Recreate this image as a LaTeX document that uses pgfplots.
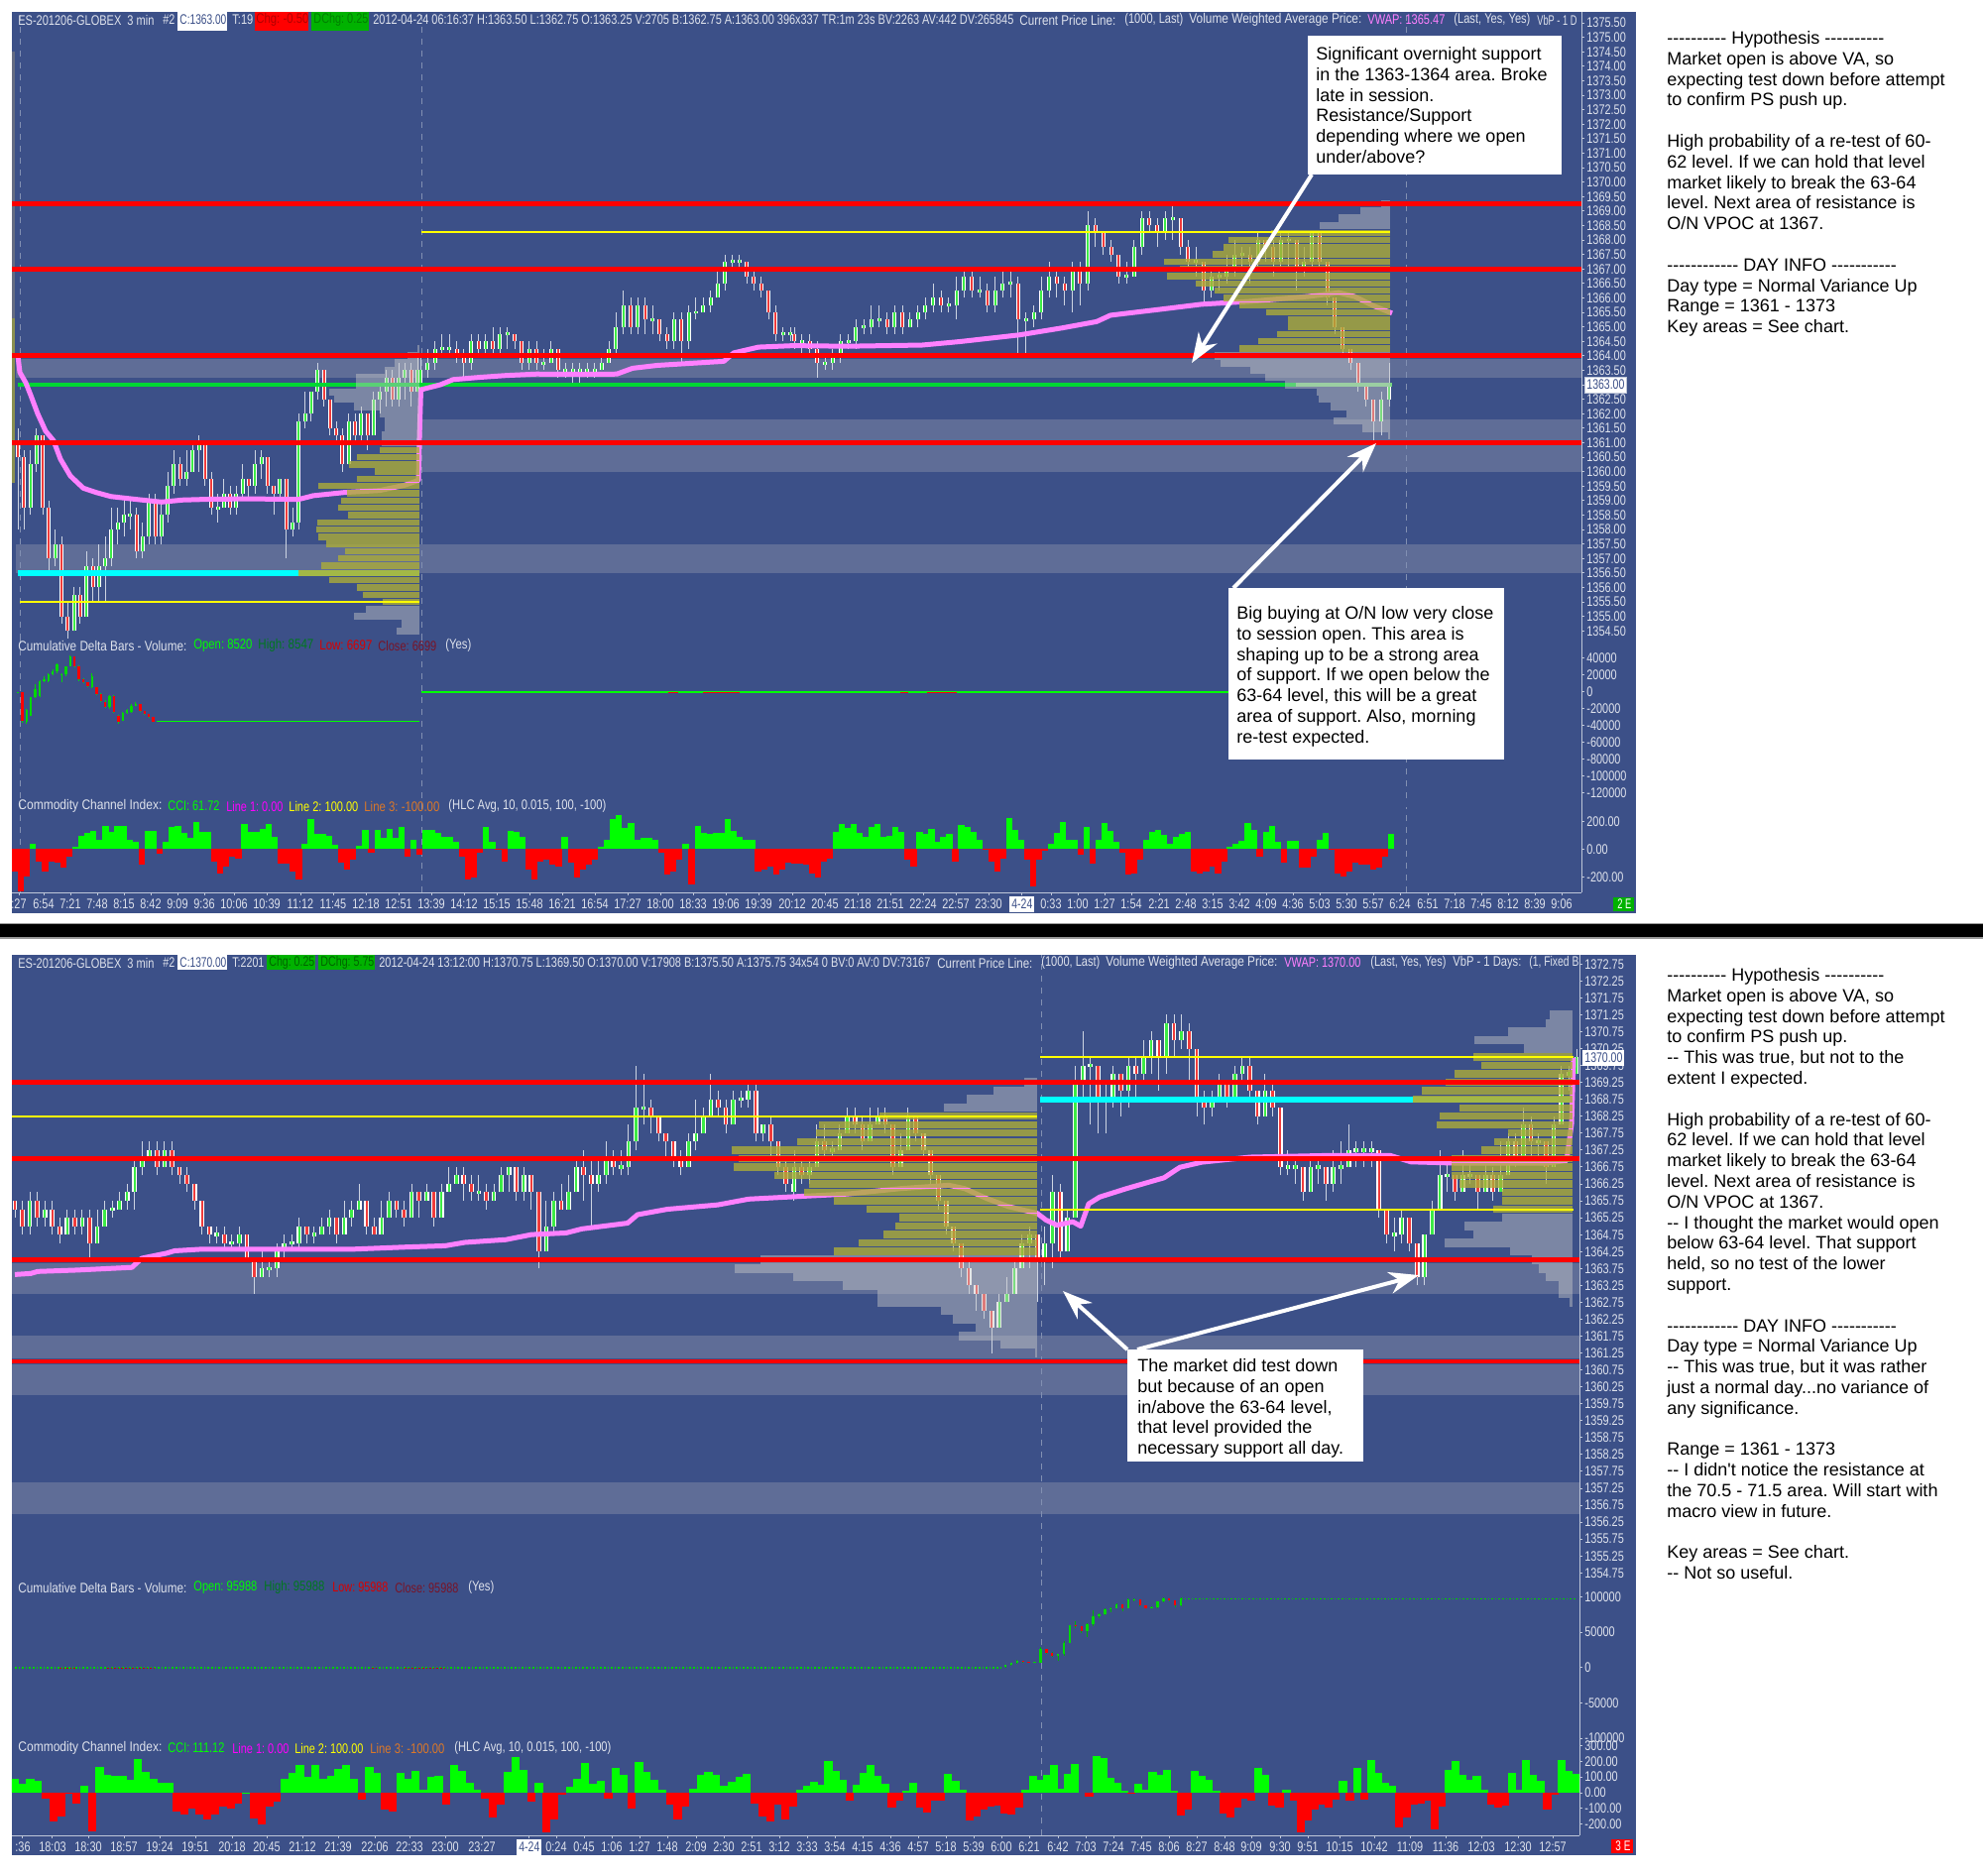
\documentclass[border=0pt]{standalone}
\usepackage{graphicx}
\usepackage{pgfplots}
\usepackage{pgfplotstable}
\usepackage{fontspec}
\pgfplotsset{compat=1.18}
\usetikzlibrary{arrows.meta}
\setmainfont{Liberation Sans}
\newfontfamily\ann{Liberation Sans}
\newfontfamily\tkf[FakeStretch=0.78]{Liberation Sans}
\def\tk{\tkf\fontsize{7}{8}\selectfont}
\definecolor{bg}{RGB}{60,80,136}
\definecolor{zonec}{RGB}{95,109,151}
\definecolor{lab}{RGB}{222,226,236}
\definecolor{linec}{RGB}{190,198,216}
\definecolor{olv}{RGB}{172,172,56}
\definecolor{gry}{RGB}{200,200,200}
\definecolor{vw}{RGB}{255,128,255}
\definecolor{upc}{RGB}{60,235,70}
\definecolor{dnc}{RGB}{240,60,60}
\definecolor{wickc}{RGB}{205,212,226}
\definecolor{dashc}{RGB}{130,144,178}
\definecolor{cgreen}{RGB}{0,215,50}
\definecolor{pocg}{RGB}{130,235,130}
\definecolor{dgreen}{RGB}{0,120,30}
\definecolor{dred}{RGB}{120,20,40}
\definecolor{orgc}{RGB}{220,120,40}
\definecolor{cyanc}{RGB}{0,255,255}
\definecolor{yelc}{RGB}{255,255,0}
\definecolor{magc}{RGB}{255,0,255}
\pgfplotsset{chart/.style={scale only axis,anchor=north west,axis y line*=right,
 axis line style={draw=linec,-},tick style={draw=linec,line width=0.5pt},major tick length=1.5pt,tick align=outside,
 yticklabel style={font=\tk,text=lab,inner sep=1pt},xticklabel style={font=\tk,text=lab,inner sep=0pt,yshift=-1.5pt},
 scaled y ticks=false,/pgf/number format/assume math mode=true,/pgf/number format/fixed,/pgf/number format/1000 sep={}},
 two/.style={/pgf/number format/fixed zerofill,/pgf/number format/precision=2}}
\newcount\ii \newcount\nn
\newcommand\getrow[2]{\pgfplotstablegetelem{\the\ii}{#2}\of{#1}}
\newcommand\glet[2]{\global\expandafter\let\csname #1\endcsname#2}
\def\gap{(0,nan)}
\newcommand\buildc[5]{\def\lw{}\def\lb{}\def\lu{}\def\ld{}%
 \pgfplotstablegetrowsof{#1}\nn=\pgfplotsretval\relax\ii=0
 \pgfmathsetmacro\stp{(#3-#2)/(\nn-1)}%
 \loop
 \getrow{#1}{l}\let\rL\pgfplotsretval\getrow{#1}{h}\let\rH\pgfplotsretval
 \getrow{#1}{o}\let\rO\pgfplotsretval\getrow{#1}{c}\let\rC\pgfplotsretval
 \pgfmathsetmacro\rX{#2+\the\ii*\stp}\pgfmathsetmacro\rA{min(\rO,\rC)}\pgfmathsetmacro\rB{max(\rO,\rC)}%
 \ifdim\rA pt=\rB pt \pgfmathsetmacro\rA{\rA-#4}\pgfmathsetmacro\rB{\rB+#4}\fi
 \edef\lw{\lw(\rX,\rL)(\rX,\rH)\gap}\edef\lb{\lb(\rX,\rA)(\rX,\rB)\gap}%
 \ifdim\rC pt<\rO pt \edef\ld{\ld(\rX,\rA)(\rX,\rB)\gap}\else\edef\lu{\lu(\rX,\rA)(\rX,\rB)\gap}\fi
 \advance\ii 1 \ifnum\ii<\nn\repeat
 \glet{#5w}\lw\glet{#5b}\lb\glet{#5u}\lu\glet{#5d}\ld}
\newcommand\buildv[4]{\def\lu{}\def\ld{}%
 \pgfplotstablegetrowsof{#1}\nn=\pgfplotsretval\relax\ii=0
 \pgfmathsetmacro\stp{(#3-#2)/(\nn-1)}%
 \loop
 \getrow{#1}{v}\let\rV\pgfplotsretval\pgfmathsetmacro\rX{#2+\the\ii*\stp}%
 \ifdim\rV pt<0pt \edef\ld{\ld(\rX,0)(\rX,\rV)\gap}\else\edef\lu{\lu(\rX,0)(\rX,\rV)\gap}\fi
 \advance\ii 1 \ifnum\ii<\nn\repeat
 \glet{#4u}\lu\glet{#4d}\ld}
\newcommand\buildp[3]{\def\lu{}%
 \pgfplotstablegetrowsof{#1}\nn=\pgfplotsretval\relax\ii=0
 \loop
 \getrow{#1}{p}\let\rP\pgfplotsretval\getrow{#1}{l}\let\rL\pgfplotsretval
 \edef\lu{\lu(\rL,\rP)(#2,\rP)\gap}%
 \advance\ii 1 \ifnum\ii<\nn\repeat
 \glet{#3}\lu}
\newcommand\segsi[2]{\addplot[unbounded coords=jump,#2] coordinates {#1};}
\newcommand\segs[2]{\expandafter\let\expandafter\tmpa\csname #2\endcsname\expandafter\segsi\expandafter{\tmpa}{#1}}
\newcommand\candles[3]{\segs{draw=wickc,line width=0.5pt}{#1w}\segs{draw=white,line width=#2}{#1b}\segs{draw=upc,line width=#3}{#1u}\segs{draw=dnc,line width=#3}{#1d}}
\newcommand\dcandles[2]{\segs{draw=#2,line width=0.5pt}{#1w}\segs{draw=green!85!black,line width=1.2pt}{#1u}\segs{draw=red,line width=1.2pt}{#1d}}
\newcommand\ccis[2]{\segs{draw=green,line width=#2}{#1u}\segs{draw=red,line width=#2}{#1d}}
\newcommand\zone[4]{\addplot[fill=zonec,draw=none] coordinates {(#1,#3)(#2,#3)(#2,#4)(#1,#4)};}
\newcommand\hl[4]{\addplot[#4] coordinates {(#1,#3)(#2,#3)};}
\newcommand\vl[3]{\addplot[dashc,dashed,line width=0.5pt] coordinates {(#1,#2)(#1,#3)};}
\newcommand\tx[5][lab]{\node[anchor=west,inner sep=0pt,text=#1] at (#2,#3) {\resizebox{\dimexpr(#4pt-#2pt)/2\relax}{\height}{\tk #5}};}
\pgfplotstableread{
l h o c
1358 1361.5 1361 1360.5
1358 1360.75 1360.5 1358.75
1358.5 1360.75 1358.75 1360.25
1360 1361.5 1360.25 1361.25
1358.5 1361.25 1361.25 1358.75
1356.5 1359 1358.75 1357
1356.75 1358 1357 1357.5
1354.75 1357.75 1357.5 1355
1354.25 1355.5 1355 1354.5
1354.5 1356 1354.5 1355.75
1354.75 1356 1355.75 1355
1355 1357.25 1355 1356.75
1355.5 1357 1356.75 1356
1355.5 1357.5 1356 1356.75
1355.5 1357.75 1356.75 1357
1356.75 1358.75 1357 1358
1357.5 1358.75 1358 1358.25
1357.75 1359 1358.25 1358.5
1358 1359 1358.5 1358.5
1357 1358.75 1358.5 1357.25
1357 1358.25 1357.25 1357.75
1357.5 1359.25 1357.75 1359
1357.5 1359.25 1359 1357.75
1357.5 1359 1357.75 1358.5
1358.25 1360 1358.5 1359.5
1359.25 1360.75 1359.5 1360.25
1359.5 1360.5 1360.25 1359.75
1359.5 1360.75 1359.75 1360
1360 1361 1360 1360.75
1360 1361.25 1360.75 1361
1359.5 1361 1361 1359.75
1358.5 1360 1359.75 1358.75
1358.25 1359.25 1358.75 1358.75
1358.75 1359.75 1358.75 1359.25
1358.5 1359.5 1359.25 1358.75
1358.5 1359.5 1358.75 1359.25
1359 1360.25 1359.25 1359.75
1359 1359.75 1359.75 1359.5
1359.25 1360.75 1359.5 1360.25
1359.75 1360.75 1360.25 1360.5
1359.25 1360.5 1360.5 1359.5
1358.5 1359.5 1359.5 1359.25
1359 1359.75 1359.25 1359.75
1357 1359.75 1359.75 1358
1357.75 1358.75 1358 1358.25
1358 1362 1358.25 1361.75
1361.5 1362.75 1361.75 1362
1361.75 1362.75 1362 1362.75
1362.5 1363.75 1362.75 1363.5
1362.25 1363.5 1363.5 1362.5
1361.25 1362.5 1362.5 1361.5
1361 1361.75 1361.5 1361.25
1360 1361.5 1361.25 1360.25
1360.25 1362 1360.25 1361.75
1361 1362 1361.75 1361.25
1361 1362.25 1361.25 1362
1360.75 1362 1362 1361.25
1361.25 1362.75 1361.25 1362.5
1362 1363 1362.5 1362.75
1362.25 1363.5 1362.75 1363.25
1362.25 1363.5 1363.25 1362.5
1362.25 1363.75 1362.5 1363.25
1362.5 1363.75 1363.25 1363.5
1362.25 1363.75 1363.5 1362.75
1362.75 1364 1362.75 1363.5
}\tA
\pgfplotstableread{
l h o c
1362.75 1364 1362.75 1363.5
1363.25 1364.25 1363.5 1363.75
1363.5 1364.5 1363.75 1364.25
1364 1364.75 1364.25 1364.25
1364 1364.75 1364.25 1364.25
1363.75 1364.5 1364.25 1364
1363.25 1364.25 1364 1363.75
1363.5 1364.75 1363.75 1364.5
1364 1364.75 1364.5 1364.25
1364 1364.75 1364.25 1364.5
1364 1365 1364.5 1364.25
1364 1365 1364.25 1364.75
1364.25 1365 1364.75 1364.75
1364.25 1364.75 1364.75 1364.5
1363.5 1364.5 1364.5 1363.75
1363.5 1364.5 1363.75 1364.25
1363.5 1364.5 1364.25 1363.75
1363.5 1364.25 1363.75 1363.75
1363.75 1364.5 1363.75 1364.25
1363.25 1364.25 1364.25 1363.5
1363.25 1363.75 1363.5 1363.5
1363 1363.75 1363.5 1363.5
1363 1363.75 1363.5 1363.5
1363.25 1363.75 1363.5 1363.5
1363.25 1363.75 1363.5 1363.5
1363.5 1364 1363.5 1363.75
1363.75 1364.5 1363.75 1364.25
1364 1365.5 1364.25 1365
1364.75 1366.25 1365 1365.75
1364.75 1366 1365.75 1365
1364.75 1366 1365 1365.75
1364.75 1366 1365.75 1365.25
1364.75 1365.75 1365.25 1365.25
1364.5 1365.25 1365.25 1364.75
1364.25 1365 1364.75 1364.5
1364.25 1365.5 1364.5 1365.25
1363.75 1365.5 1365.25 1364.5
1364.25 1365.75 1364.5 1365.5
1365.25 1366 1365.5 1365.5
1365.5 1366 1365.5 1365.75
1365.5 1366.25 1365.75 1366
1366 1367 1366 1366.5
1366.25 1367.5 1366.5 1367.25
1367 1367.5 1367.25 1367.25
1367 1367.5 1367.25 1367.25
1366.5 1367.25 1367.25 1366.75
1366.25 1367 1366.75 1366.5
1366 1366.75 1366.5 1366.25
1365.25 1366.25 1366.25 1365.5
1364.5 1365.75 1365.5 1364.75
1364.5 1365 1364.75 1364.75
1364.5 1365 1364.75 1364.75
}\tB
\pgfplotstableread{
l h o c
1364.25 1365 1364.75 1364.5
1364 1364.75 1364.5 1364.5
1364 1364.75 1364.5 1364.25
1363.25 1364.5 1364.25 1363.75
1363.5 1364 1363.75 1363.75
1363.5 1364.25 1363.75 1364
1363.75 1364.75 1364 1364.5
1364.25 1364.75 1364.5 1364.5
1364.25 1365.25 1364.5 1365
1364.75 1365.25 1365 1365
1364.75 1365.75 1365 1365.25
1365 1365.75 1365.25 1365.25
1364.75 1365.5 1365.25 1365
1364.75 1365.75 1365 1365.5
1364.75 1365.75 1365.5 1365
1365 1365.5 1365 1365.25
1365 1365.75 1365.25 1365.5
1365.25 1366 1365.5 1365.75
1365.5 1366.5 1365.75 1366
1365.5 1366.25 1366 1365.75
1365.5 1366 1365.75 1365.75
1365.25 1366.75 1365.75 1366.25
1366 1367 1366.25 1366.75
1366 1367 1366.75 1366.25
1366 1366.75 1366.25 1366.25
1365.5 1366.5 1366.25 1365.75
1365.5 1366.75 1365.75 1366.25
1366 1367 1366.25 1366.5
1366 1367 1366.5 1366.5
1364 1366.75 1366.5 1365.25
1364 1365.5 1365.25 1365.25
1365 1365.75 1365.25 1365.5
1365.25 1366.75 1365.5 1366.25
1366 1367.25 1366.25 1366.75
1366 1367 1366.75 1366.5
1365.75 1366.75 1366.5 1366.25
1365.5 1367.25 1366.25 1367
1365.75 1367.25 1367 1366.5
1366.25 1369 1366.5 1368.5
1367.75 1368.75 1368.5 1368.25
1367.5 1368.25 1368.25 1367.75
1367.25 1368 1367.75 1367.5
1366.5 1367.5 1367.5 1366.75
1366.5 1367.25 1366.75 1366.75
1366.75 1368 1366.75 1367.75
1367.5 1369 1367.75 1368.75
1368.25 1369 1368.75 1368.5
1367.75 1368.75 1368.5 1368.25
1368 1369 1368.25 1368.75
1368 1369.25 1368.75 1368.75
1367.5 1368.75 1368.75 1367.75
1367 1368 1367.75 1367.25
1366.75 1367.75 1367.25 1367.25
1365.75 1367.25 1367.25 1366.25
1366 1367 1366.25 1366.75
1366.25 1367 1366.75 1366.75
1366.5 1367.5 1366.75 1367
1366.75 1368 1367 1367.5
1367 1367.75 1367.5 1367.5
1366.5 1367.75 1367.5 1367.25
1367 1368.25 1367.25 1368
1367.25 1368 1368 1367.75
1366.75 1368 1367.75 1367.25
1367 1368.25 1367.25 1368
1367 1368.25 1368 1368
1366.25 1368 1368 1367
1366.75 1367.75 1367 1367.25
1367 1368.25 1367.25 1368.25
1367 1368.25 1368.25 1367.25
1365.75 1367.25 1367.25 1366
1364.75 1366 1366 1365
1364 1365 1365 1364.25
1363.5 1364.25 1364.25 1363.75
1362.75 1363.75 1363.75 1363
1362.25 1363 1363 1362.5
1361 1362.5 1362.5 1361.75
1361.25 1362.75 1361.75 1362.5
1362.25 1363.75 1362.5 1363
}\tC
\pgfplotstableread{
l h o c
1365.25 1365.75 1365.75 1365.5
1364.75 1365.75 1365.5 1365
1364.75 1366 1365 1365.75
1365 1366 1365.75 1365.25
1365 1365.75 1365.25 1365.5
1364.75 1365.75 1365.5 1365
1364.5 1365.25 1365 1364.75
1364.75 1365.5 1364.75 1365.25
1364.75 1365.5 1365.25 1365
1364.75 1365.5 1365 1365.25
1364 1365.5 1365.25 1364.5
1364.5 1365.5 1364.5 1365
1365 1365.75 1365 1365.5
1365.25 1365.75 1365.5 1365.5
1365.5 1366 1365.5 1365.75
1365.5 1366.25 1365.75 1366
1365.5 1367 1366 1366.75
1366.5 1367.5 1366.75 1367
1367 1367.5 1367 1367.25
1366.5 1367.5 1367.25 1366.75
1366.75 1367.5 1366.75 1367.25
1366.5 1367.5 1367.25 1366.75
1366.25 1366.75 1366.75 1366.5
1366 1366.75 1366.5 1366.25
1365.5 1366.25 1366.25 1365.75
1364.75 1365.75 1365.75 1365
1364.5 1365 1365 1364.75
1364.5 1365 1364.75 1364.75
1364.25 1365 1364.75 1364.5
1364.25 1364.75 1364.5 1364.5
1364.25 1365 1364.5 1364.75
1364 1364.75 1364.75 1364
1363 1364 1364 1363.5
1363.5 1364.25 1363.5 1363.75
1363.5 1364 1363.75 1363.75
1363.5 1364.5 1363.75 1364.25
1364 1364.75 1364.25 1364.5
1364.25 1364.75 1364.5 1364.5
1364.25 1365.25 1364.5 1365
1364.5 1365 1365 1364.75
1364.5 1365 1364.75 1364.75
1364.75 1365.25 1364.75 1365
1364.75 1365.5 1365 1365.25
1364.5 1365.25 1365.25 1364.75
1364.75 1365.75 1364.75 1365.25
1365 1365.75 1365.25 1365.5
1365.5 1366.25 1365.5 1365.75
1364.75 1365.75 1365.75 1365
1364.75 1365.25 1365 1364.75
1364.75 1365.75 1364.75 1365.25
1365.25 1366 1365.25 1365.75
1365.25 1365.75 1365.75 1365.5
1365 1365.75 1365.5 1365.25
1365.25 1366.25 1365.25 1366
1365.25 1366 1366 1365.75
1365.75 1366.25 1365.75 1366
1365 1366 1366 1365.25
1365.25 1366.25 1365.25 1366
1366 1366.75 1366 1366.25
1366.25 1366.75 1366.25 1366.5
1365.75 1366.75 1366.5 1366.25
1365.75 1366.5 1366.25 1366
1365.75 1366.5 1366 1366
1365.5 1366.25 1366 1365.75
1365.75 1366.25 1365.75 1366
1366 1366.75 1366 1366.5
1366 1366.75 1366.5 1366.75
1365.75 1366.75 1366.75 1366
1365.75 1366.75 1366 1366.5
1365.5 1366.5 1366.5 1366
1363.75 1366 1366 1364.25
1364.25 1365.75 1364.25 1365
1364.75 1366 1365 1365.75
1365.5 1366.25 1365.75 1365.5
1365.5 1366.5 1365.5 1366
1366 1367 1366 1366.75
1365.75 1367.25 1366.75 1366.5
1365 1367 1366.5 1366.25
1366 1367 1366.25 1366.5
1366.25 1367.5 1366.5 1367
1366.5 1367.25 1367 1366.75
1366.5 1367.25 1366.75 1366.75
1366.5 1368 1366.75 1367.5
1367.25 1369.75 1367.5 1368.5
1368 1369.5 1368.5 1368.5
1367.75 1368.75 1368.5 1368.25
1367.5 1368.25 1368.25 1367.75
1367 1367.75 1367.75 1367.5
1366.75 1367.5 1367.5 1367
1366.5 1367.25 1367 1366.75
1366.75 1367.75 1366.75 1367.5
1367.25 1368.75 1367.5 1367.75
1367.75 1368.5 1367.75 1368.25
1368.25 1369.5 1368.25 1368.75
1368.25 1369 1368.75 1368.5
1367.75 1368.75 1368.5 1368
1368 1369 1368 1368.75
1368.5 1369 1368.75 1368.75
1368.5 1369.25 1368.75 1369
1367.5 1369.25 1369 1367.75
1367.5 1368 1367.75 1368
1367 1368.25 1368 1367.5
1366.5 1367.5 1367.5 1366.75
1366 1367 1366.75 1366.25
1365.75 1366.25 1366.25 1366
}\tD
\pgfplotstableread{
l h o c
1366.5 1367.25 1366 1366.75
1366.25 1367 1366.75 1366.5
1366.25 1367 1366.5 1366.75
1367.25 1368 1366.75 1367.5
1367 1368 1367.5 1367.25
1367 1367.5 1367.25 1367.25
1367.5 1368 1367.25 1367.75
1367.75 1368.5 1367.75 1368.25
1367.75 1368.5 1368.25 1368
1367.25 1368.25 1368 1367.5
1367.5 1368.5 1367.5 1368
1368 1368.5 1368 1368.25
1367.75 1368.5 1368.25 1368
1366.5 1368 1368 1366.75
1367 1367.75 1366.75 1367.25
1367.25 1368.5 1367.25 1368.25
1367.5 1368.25 1368.25 1367.75
1367 1367.75 1367.75 1367.25
1366.25 1367.25 1367.25 1366.5
1365.5 1366.5 1366.5 1365.75
1364.75 1365.75 1365.75 1365
1364.25 1365 1365 1364.5
1363.5 1364.5 1364.5 1363.75
1363 1364 1363.75 1363.25
1362.5 1363.25 1363.25 1363
1362.25 1363 1363 1362.5
1361.25 1362.5 1362.5 1362
1362 1363 1362 1362.75
1362.75 1363.5 1362.75 1363
1363 1364 1363 1363.75
1363.75 1364.75 1363.75 1364.5
1363.75 1365 1364.5 1364.75
1362.75 1364.75 1364.75 1364
1363.25 1365 1364 1364.5
1363.75 1366.5 1364.5 1366
1364 1366.25 1366 1364.25
1364.25 1365.5 1364.25 1365.25
1365.25 1369.75 1365.25 1369.25
1368.75 1370.75 1369.25 1369.75
1368 1370 1369.75 1369.75
1367.75 1369.75 1369.75 1368.75
1367.75 1369.25 1368.75 1368.75
1368.5 1369.75 1368.75 1369.5
1368.25 1369.5 1369.5 1369
1368.5 1370 1369 1369.75
1368.75 1370 1369.75 1369.5
1369.25 1370.5 1369.5 1370
1369.5 1370.75 1370 1370.5
1369 1370.5 1370.5 1370
1369.5 1371.25 1370 1371
1370 1371.25 1371 1370.5
1370.25 1371.25 1370.5 1370.75
1369.25 1371 1370.75 1370.25
1368.25 1370.25 1370.25 1368.75
1368 1369 1368.75 1368.5
1368.25 1369 1368.5 1368.75
1368.75 1369.5 1368.75 1369.25
1368.5 1369.25 1369.25 1368.75
1368.75 1369.75 1368.75 1369.5
1369.25 1370 1369.5 1369.75
1368.75 1370 1369.75 1369
1368 1369 1369 1368.25
1368.25 1369.5 1368.25 1369
1368.25 1369.25 1369 1368.5
1366.5 1368.5 1368.5 1366.75
1366.5 1367.25 1366.75 1366.75
1366.25 1367 1366.75 1366.75
1365.75 1366.75 1366.75 1366
1366 1367 1366 1366.75
1366.25 1367 1366.75 1366.75
1365.75 1366.75 1366.75 1366.25
1366 1367.25 1366.25 1366.75
1366.25 1367.5 1366.75 1366.75
1367 1368 1366.75 1367.25
1366.75 1367.5 1367.25 1367.25
1366.75 1367.5 1367.25 1367.25
1366.75 1367.5 1367.25 1367.25
1365.25 1367.25 1367.25 1365.5
1364.5 1365.5 1365.5 1364.75
1364.25 1365.25 1364.75 1364.75
1364.5 1365.5 1364.75 1365.25
1364.25 1365.25 1365.25 1364.5
1363.25 1364.5 1364.5 1363.5
1363.25 1364.75 1363.5 1364.75
1364.75 1365.75 1364.75 1365.5
1365.5 1367.25 1365.5 1366.5
1366 1367 1366.5 1366.5
1365.75 1366.5 1366.5 1366
1366 1367.25 1366 1366.5
1366.25 1367 1366.5 1366.5
1365.5 1366.5 1366.5 1366
1366 1367 1366 1366.5
1365.75 1366.75 1366.5 1366
1366 1367.5 1366 1366.5
1366.5 1367.75 1366.5 1367.5
1366.75 1367.75 1367.5 1367
1367 1368.5 1367 1368
1367 1368.25 1368 1367.5
1367 1367.75 1367.5 1367.5
1366.25 1367.5 1367.5 1366.75
1366.75 1368.25 1366.75 1368
1368 1369.75 1368 1369.5
1369 1369.75 1369.5 1369.5
1369.5 1370.25 1369.5 1370
}\tE
\pgfplotstableread{
p l
1360.75 383
1360.5 360
1360.25 352
1360 378
1359.75 360
1359.5 321
1359.25 350
1359 344
1358.75 341
1358.5 351
1358.25 320
1358 319
1357.75 321
1357.5 329
1357.25 348
1357 341
1356.75 324
1356.5 301
1356.25 332
1356 360
1355.75 366
1355.5 386
}\pAo
\pgfplotstableread{
p l
1364.25 421
1364 411
1363.75 398
1363.5 388
1363.25 359
1363 359
1362.75 332
1362.5 337
1362.25 357
1362 383
1361.75 388
1361.5 388
1361.25 385
1361 385
1355.25 369
1355 357
1354.75 405
1354.5 400
}\pAg
\pgfplotstableread{
p l
1368.25 1282
1368 1239
1367.75 1234
1367.5 1223
1367.25 1174
1367 1190
1366.75 1177
1366.5 1206
1366.25 1225
1366 1234
1365.75 1250
1365.5 1277
1365.25 1299
1365 1299
1364.75 1288
1364.5 1269
1364.25 1250
}\pBo
\pgfplotstableread{
p l
1369.25 1393
1369 1372
1368.75 1350
1368.5 1331
1364 1225
1363.75 1231
1363.5 1261
1363.25 1276
1363 1296
1362.75 1328
1362.5 1330
1362.25 1342
1362 1358
1361.75 1345
1361.5 1374
1361.25 1400
}\pBg
\pgfplotstableread{
p l
1368.25 887
1368 826
1367.75 823
1367.5 804
1367.25 738
1367 745
1366.75 740
1366.5 781
1366.25 816
1366 811
1365.75 841
1365.5 874
1365.25 907
1365 903
1364.75 891
1364.5 866
1364.25 841
}\pCo
\pgfplotstableread{
p l
1369.25 1033
1369 1002
1368.75 975
1368.5 952
1364 767
1363.75 741
1363.5 800
1363.25 850
1363 885
1362.75 885
1362.5 949
1362.25 961
1362 984
1361.75 967
1361.5 1009
1361.25 1044
}\pCg
\pgfplotstableread{
p l
1370 1486
1369.75 1494
1369.5 1467
1369.25 1458
1369 1434
1368.75 1425
1368.5 1472
1368.25 1452
1368 1449
1367.75 1521
1367.5 1507
1367.25 1494
1367 1464
1366.75 1464
1366.5 1464
1366.25 1472
1366 1515
1365.75 1515
1365.5 1506
}\pDo
\pgfplotstableread{
p l
1371.25 1563
1371 1559
1370.75 1521
1370.5 1487
1370.25 1537
1365.25 1515
1365 1477
1364.75 1486
1364.5 1457
1364.25 1523
1364 1545
1363.75 1552
1363.5 1559
1363.25 1572
1363 1572
1362.75 1583
}\pDg
\pgfplotstableread{
l h o c
-2 0.2 -0.8 -0.8
-37 -0.8 -0.8 -34.1
-38 -20 -36.1 -21.6
-29 -6 -28.2 -6.7
-7 9 -6.7 3.1
-6 14 -4.7 12.9
11 18 12.9 14.9
12 22 12.9 20.8
20 27 20.8 24.7
22 33.5 24.7 32.5
12 22 20.8 20.8
19 27 20.8 30.6
30 43 30.6 41.6
29 42 41.6 30.6
13 31 30.6 14.9
10 16 14.9 11
6 12 11 7.1
4 22 5.1 18.8
-4 6 5.1 -2.7
-12 -2 -2.7 -10.6
-19 -10 -12.5 -18.4
-20 -4 -18.4 -5.5
-25 -4 -4.7 -24.3
-38 -27 -28.2 -36.1
-34 -24 -34.1 -25.5
-26 -20 -25.5 -21.6
-25 -15 -24.3 -16.5
-17 -12 -16.5 -14.5
-24 -14 -14.5 -23.1
-27 -23 -23.1 -26.3
-31 -26 -26.3 -30.2
-36 -30 -30.2 -36
-36 -34 -35.8 -34.9
}\dA
\pgfplotstableread{
l h o c
0 3.5 0.5 3.3
3 6.5 3.3 6.1
5.5 11 6.1 9.3
7 10 9.3 7.9
6.5 8.5 7.9 7
6 8 7 7
6.5 29 7 25.7
19 26 25.7 21
15 22 21 16.3
10 19 16.3 18.7
17 37 18.7 35
34 60 35 59.8
55 65 59.8 58.4
48 58.5 58.4 51.4
43 62 51.4 60.7
58 81 60.7 72.4
70 76 72.4 74.7
74 83 74.7 81.7
78 85 81.7 84.1
84 90 84.1 88.7
79 89 88.7 84.1
84 97 84.1 95.7
93 98 95.7 95.7
86 96 95.7 87.3
83 88 87.3 84.1
83 86 84.1 85
83 94 85 93.4
92 99 93.4 97.1
93 98 97.1 94.3
85 95 94.3 87.3
86 99 87.3 97.1
}\dB
\pgfplotstableread[row sep=\\]{v\\-158\\-300\\-193\\42\\-87\\-158\\-87\\-99\\-134\\-52\\19\\97\\113\\132\\66\\167\\125\\167\\167\\66\\54\\-111\\132\\132\\-33\\54\\156\\167\\113\\78\\191\\125\\125\\-87\\-170\\-123\\-52\\-64\\177\\125\\125\\142\\177\\90\\-104\\-104\\-158\\-217\\42\\215\\109\\109\\97\\31\\-99\\-146\\-75\\24\\137\\-28\\137\\78\\142\\78\\156\\-52\\66\\-40\\137\\137\\113\\90\\90\\54\\-52\\-217\\-205\\-28\\160\\54\\-5\\-87\\132\\125\\90\\-146\\-217\\-87\\-75\\-111\\-123\\90\\-99\\-205\\-146\\-111\\-75\\14\\66\\215\\243\\149\\184\\66\\78\\78\\66\\-28\\-182\\-158\\-75\\42\\-252\\167\\113\\106\\113\\113\\215\\132\\90\\66\\66\\-158\\-146\\-123\\-182\\-146\\-99\\}\cA
\pgfplotstableread[row sep=\\]{v\\-104\\-104\\-111\\-170\\-205\\-87\\-64\\125\\177\\149\\177\\113\\90\\156\\177\\90\\97\\160\\125\\-75\\-123\\125\\109\\142\\54\\90\\109\\-87\\172\\156\\125\\66\\-5\\-87\\-158\\-64\\226\\137\\66\\-75\\-264\\-75\\-9\\42\\113\\196\\66\\66\\-40\\156\\-104\\66\\189\\132\\54\\-28\\-182\\-170\\-75\\66\\125\\137\\101\\42\\90\\109\\125\\-158\\-170\\-158\\-123\\-170\\-87\\14\\38\\61\\189\\137\\-52\\125\\167\\54\\-99\\61\\61\\-134\\-134\\-52\\66\\118\\-5\\-170\\-193\\-158\\-99\\-111\\-111\\-146\\-134\\-52\\109\\}\cB
\pgfplotstableread[row sep=\\]{v\\90\\59\\86\\73\\-36\\-182\\-151\\-4\\-67\\42\\-245\\163\\115\\107\\107\\80\\216\\132\\90\\65\\65\\-119\\-140\\-98\\-140\\-172\\-140\\-88\\-98\\-67\\2\\-161\\-199\\-88\\-57\\90\\126\\174\\100\\174\\90\\107\\153\\174\\90\\-46\\163\\128\\-109\\-119\\128\\90\\136\\17\\100\\107\\-78\\178\\136\\65\\17\\-36\\-157\\-78\\132\\226\\142\\-57\\65\\-249\\-172\\-15\\38\\86\\191\\59\\73\\-36\\157\\115\\-98\\195\\132\\80\\17\\-78\\-172\\-88\\27\\111\\132\\111\\44\\69\\100\\122\\-67\\-151\\-182\\-78\\-172\\-88\\}\cC
\pgfplotstableread[row sep=\\]{v\\-31\\21\\42\\67\\48\\203\\140\\80\\-48\\48\\126\\174\\105\\57\\-94\\-52\\15\\63\\-94\\-126\\-52\\-52\\122\\78\\21\\-178\\-153\\-105\\-88\\-84\\-132\\-136\\-94\\21\\105\\84\\115\\178\\27\\119\\182\\0\\-27\\230\\220\\94\\63\\15\\-4\\57\\21\\132\\111\\147\\15\\-147\\-105\\140\\105\\80\\15\\-132\\-157\\-94\\-36\\-52\\157\\115\\-84\\-94\\19\\-52\\-252\\-178\\-105\\-73\\-94\\-42\\73\\-52\\157\\-42\\210\\126\\63\\42\\-220\\-157\\-73\\-69\\-52\\-230\\-90\\147\\199\\115\\84\\105\\21\\-78\\-94\\-84\\126\\21\\210\\115\\73\\-105\\-10\\210\\136\\119\\}\cD
\buildc{\tA}{18}{421}{0.05}{xA}\buildc{\tB}{424}{797}{0.05}{xB}\buildc{\tC}{801}{1401}{0.05}{xC}
\buildc{\tD}{15}{800}{0.05}{xD}\buildc{\tE}{801}{1590}{0.05}{xE}
\buildc{\dA}{18}{159}{0.3}{yA}\buildc{\dB}{1014}{1191}{0.4}{yB}
\buildv{\cA}{15}{795}{zA}\buildv{\cB}{801}{1403}{zB}\buildv{\cC}{15}{800}{zC}\buildv{\cD}{800}{1589}{zD}
\buildp{\pAo}{423}{qAo}\buildp{\pAg}{423}{qAg}\buildp{\pBo}{1402}{qBo}\buildp{\pBg}{1402}{qBg}
\buildp{\pCo}{1046}{qCo}\buildp{\pCg}{1046}{qCg}\buildp{\pDo}{1586}{qDo}\buildp{\pDg}{1586}{qDg}
\begin{document}%
\frenchspacing%
\begin{tikzpicture}
\path[use as bounding box] (0,0) rectangle (1000pt,-945.5pt);
\begin{scope}[x=0.5pt,y=-0.5pt]
\fill[bg] (12,12) rectangle (1650,921);
\fill[bg] (12,963) rectangle (1650,1871);
\fill[black] (0,932) rectangle (2000,945);
\fill[black!40] (0,930.5) rectangle (2000,932);
\fill[black!40] (0,945) rectangle (2000,946.5);
\end{scope}
\begin{axis}[chart,two,axis x line=none,at={(6pt,-6pt)},width=791.5pt,height=316.5pt,xmin=12,xmax=1595,ymin=1354.2,ymax=1375.877,ytick distance=0.5]
\zone{16}{1595}{1363.9}{1363.25}
\zone{425}{1595}{1361.8}{1361.1}
\zone{425}{1595}{1360.9}{1360}
\zone{16}{1595}{1357.5}{1356.5}
\addplot[fill=gray!60!bg,draw=none] coordinates {(12,1374.5)(15,1374.5)(15,1365.3)(12,1365.3)};
\addplot[fill=olv!70!bg,draw=none] coordinates {(12,1365.3)(15,1365.3)(15,1359.6)(12,1359.6)};
\vl{20}{1354.2}{1375.87}\vl{425}{1354.2}{1375.87}\vl{1418}{1354.2}{1375.87}
\candles{xA}{2pt}{1pt}
\candles{xB}{2pt}{1pt}
\candles{xC}{2pt}{1pt}
\hl{18}{1307}{1363}{draw=cgreen,line width=2pt}
\hl{1307}{1404}{1363}{draw=pocg!85!bg,line width=2pt}
\hl{18}{301}{1356.5}{draw=cyanc,line width=3pt}
\hl{301}{423}{1356.5}{draw=pocg,line width=3pt}
\addplot[vw,line width=2.5pt,line join=round] coordinates {(18,1364)(20,1363.43)(26,1363.07)(31,1362.64)(38,1362)(46,1361.4)(54,1361.07)(61,1360.43)(71,1359.85)(84,1359.43)(97,1359.28)(112,1359.14)(138,1359.04)(163,1358.95)(184,1359.02)(214,1359.05)(255,1359.06)(301,1359.04)(316,1359.17)(347,1359.28)(383,1359.35)(408,1359.53)(422,1359.7)(423,1361.17)(424.5,1362.83)(444,1363)(457,1363.18)(485,1363.26)(510,1363.32)(541,1363.37)(587,1363.36)(622,1363.37)(638,1363.57)(663,1363.67)(730,1363.81)(740,1364.1)(765,1364.3)(800,1364.35)(854,1364.33)(930,1364.37)(968,1364.49)(1028,1364.72)(1071,1364.96)(1106,1365.18)(1120,1365.4)(1169,1365.6)(1212,1365.78)(1261,1365.88)(1320,1366.05)(1350,1366.18)(1366,1366.05)(1385,1365.73)(1404,1365.47)};
\segs{draw=olv,draw opacity=0.8,line width=3.2pt}{qAo}
\segs{draw=gry,draw opacity=0.45,line width=3.7pt}{qAg}
\segs{draw=olv,draw opacity=0.8,line width=3.2pt}{qBo}
\segs{draw=gry,draw opacity=0.45,line width=3.7pt}{qBg}
\hl{20}{423}{1355.5}{draw=yelc,line width=1pt}
\hl{425}{1402}{1368.28}{draw=yelc,line width=1pt}
\hl{12}{1595}{1369.25}{draw=red,line width=2.4pt}
\hl{12}{1595}{1367}{draw=red,line width=2.4pt}
\hl{12}{1595}{1364}{draw=red,line width=2.4pt}
\hl{12}{1595}{1361}{draw=red,line width=2.4pt}
\end{axis}
\begin{axis}[chart,axis x line=none,at={(6pt,-322.5pt)},width=791.5pt,height=80pt,xmin=12,xmax=1595,ymin=-126.235,ymax=62,ytick={-120,-100,-80,-60,-40,-20,0,20,40},yticklabels={-120000,-100000,-80000,-60000,-40000,-20000,0,20000,40000}]
\vl{20}{-126.235}{62}\vl{425}{-126.235}{62}\vl{1418}{-126.235}{62}
\dcandles{yA}{green!85!black}
\hl{158}{423}{-35}{draw=green,line width=0.7pt}
\hl{425}{1404}{-0.3}{draw=green,line width=0.7pt}
\hl{674}{684}{-0.8}{draw=red,line width=0.7pt}
\hl{709}{746}{-0.8}{draw=red,line width=0.7pt}
\hl{908}{916}{-0.8}{draw=red,line width=0.7pt}
\hl{935}{965}{-0.8}{draw=red,line width=0.7pt}
\end{axis}
\begin{axis}[chart,two,axis x line*=bottom,at={(6pt,-402.5pt)},width=791.5pt,height=47.5pt,xmin=12,xmax=1595,ymin=-308,ymax=364,ytick={-200,0,200},
 xtick={19,44,71,98,125,152,179,206,236,269,303,336,369,402,435,468,501,534,567,600,633,666,699,732,765,799,832,865,898,931,964,997,1030,1060,1087,1114,1141,1169,1196,1223,1250,1277,1304,1331,1358,1385,1412,1440,1467,1494,1521,1548,1575},
 xticklabels={:27,6:54,7:21,7:48,8:15,8:42,9:09,9:36,10:06,10:39,11:12,11:45,12:18,12:51,13:39,14:12,15:15,15:48,16:21,16:54,17:27,18:00,18:33,19:06,19:39,20:12,20:45,21:18,21:51,22:24,22:57,23:30,,0:33,1:00,1:27,1:54,2:21,2:48,3:15,3:42,4:09,4:36,5:03,5:30,5:57,6:24,6:51,7:18,7:45,8:12,8:39,9:06}]
\vl{20}{-308}{364}\vl{425}{-308}{364}\vl{1418}{-308}{300}
\ccis{zA}{3.1pt}
\ccis{zB}{3.1pt}
\end{axis}
\begin{axis}[chart,two,axis x line=none,at={(6pt,-481.5pt)},width=790.5pt,height=313.5pt,xmin=12,xmax=1593,ymin=1354.64,ymax=1373.02,ytick={1354.75,1355.25,...,1372.75}]
\zone{12}{1593}{1363.9}{1363}
\zone{12}{1593}{1361.75}{1361.1}
\zone{12}{1593}{1360.9}{1360}
\zone{12}{1593}{1357.42}{1356.5}
\vl{1050}{1354.64}{1373.02}
\candles{xD}{2.4pt}{1.2pt}
\candles{xE}{2.4pt}{1.2pt}
\hl{1049}{1425}{1368.75}{draw=cyanc,line width=3pt}
\hl{1425}{1586}{1368.75}{draw=pocg,line width=3pt}
\addplot[vw,line width=2.5pt,line join=round] coordinates {(15,1363.57)(31,1363.6)(38,1363.66)(77,1363.7)(133,1363.78)(143,1364.05)(168,1364.2)(176,1364.27)(204,1364.32)(357,1364.32)(408,1364.38)(449,1364.42)(469,1364.52)(510,1364.6)(536,1364.75)(571,1364.8)(587,1364.92)(633,1365.09)(643,1365.34)(673,1365.5)(724,1365.63)(755,1365.8)(800,1365.87)(854,1365.95)(908,1366.11)(957,1366.21)(973,1366.11)(995,1365.82)(1017,1365.58)(1046,1365.38)(1055,1365.18)(1066,1365.03)(1082,1365.13)(1090,1365)(1098,1365.66)(1109,1365.86)(1136,1366.11)(1174,1366.43)(1190,1366.74)(1212,1366.89)(1261,1367.04)(1342,1367.09)(1402,1367.09)(1423,1366.9)(1472,1366.86)(1559,1366.86)(1580,1366.94)(1585,1368.02)(1587,1369.97)};
\segs{draw=olv,draw opacity=0.8,line width=3.7pt}{qCo}
\segs{draw=gry,draw opacity=0.45,line width=4.25pt}{qCg}
\segs{draw=olv,draw opacity=0.8,line width=3.7pt}{qDo}
\segs{draw=gry,draw opacity=0.45,line width=4.25pt}{qDg}
\hl{12}{1046}{1368.25}{draw=yelc,line width=1pt}
\hl{1049}{1587}{1370}{draw=yelc,line width=1pt}
\hl{1049}{1587}{1365.5}{draw=yelc,line width=1pt}
\hl{12}{1593}{1369.25}{draw=red,line width=2.4pt}
\hl{12}{1593}{1367}{draw=red,line width=2.4pt}
\hl{12}{1593}{1364}{draw=red,line width=2.4pt}
\hl{12}{1593}{1361}{draw=red,line width=2.4pt}
\end{axis}
\begin{axis}[chart,axis x line=none,at={(6pt,-795pt)},width=790.5pt,height=82.5pt,xmin=12,xmax=1593,ymin=-102.62,ymax=128.38,ytick={-100,-50,0,50,100},yticklabels={-100000,-50000,0,50000,100000}]
\vl{1050}{-102.62}{128.38}
\hl{15}{1009}{-0.6}{draw=green!80!black,line width=0.8pt,densely dotted}
\hl{60}{76}{-0.8}{draw=red!80!black,line width=0.8pt,densely dotted}
\hl{108}{155}{-0.8}{draw=red!80!black,line width=0.8pt,densely dotted}
\hl{375}{382}{-0.8}{draw=red!80!black,line width=0.8pt,densely dotted}
\hl{408}{448}{-0.8}{draw=red!80!black,line width=0.8pt,densely dotted}
\dcandles{yB}{green!70!black}
\hl{1191}{1589}{97}{draw=green!80!black,line width=0.8pt,densely dotted}
\end{axis}
\begin{axis}[chart,two,axis x line*=bottom,at={(6pt,-877.5pt)},width=790.5pt,height=48pt,xmin=12,xmax=1593,ymin=-270,ymax=333,ytick={-200,-100,...,300},
 xtick={23,53,89,125,161,197,234,269,305,341,378,413,449,486,533,561,589,617,645,673,702,730,758,786,814,842,870,898,926,954,982,1010,1038,1067,1095,1123,1151,1179,1207,1235,1262,1291,1319,1351,1386,1422,1458,1494,1531,1566},
 xticklabels={:36,18:03,18:30,18:57,19:24,19:51,20:18,20:45,21:12,21:39,22:06,22:33,23:00,23:27,,0:24,0:45,1:06,1:27,1:48,2:09,2:30,2:51,3:12,3:33,3:54,4:15,4:36,4:57,5:18,5:39,6:00,6:21,6:42,7:03,7:24,7:45,8:06,8:27,8:48,9:09,9:30,9:51,10:15,10:42,11:09,11:36,12:03,12:30,12:57}]
\vl{1050}{-270}{300}
\ccis{zC}{4.1pt}
\ccis{zD}{4.1pt}
\end{axis}
\begin{scope}[x=0.5pt,y=-0.5pt]
\fill[white] (179,12) rectangle (229,31);
\fill[red] (257,12) rectangle (311,31);
\fill[green!70!black] (314,12) rectangle (372,31);
\tx{18}{20}{155}{ES-201206-GLOBEX\ \ 3 min}
\tx{164}{20}{176}{\#2}
\tx[bg]{181}{20}{228}{C:1363.00}
\tx{234}{20}{255}{T:19}
\tx[red!70!black]{258}{20}{311}{Chg: -0.50}
\tx[green!50!black]{316}{20}{371}{DChg: 0.25}
\tx{376}{20}{1022}{2012-04-24 06:16:37 H:1363.50 L:1362.75 O:1363.25 V:2705 B:1362.75 A:1363.00 396x337 TR:1m 23s BV:2263 AV:442 DV:265845}
\tx{1028}{20}{1125}{Current Price Line:}
\tx{1134}{20}{1193}{(1000, Last)}
\tx{1199}{20}{1373}{Volume Weighted Average Price:}
\tx[vw]{1379}{20}{1457}{VWAP: 1365.47}
\tx{1466}{20}{1543}{(Last, Yes, Yes)}
\tx{1550}{20}{1590}{VbP - 1 D}
\tx{18}{651}{188}{Cumulative Delta Bars - Volume:}
\tx[green]{195}{651}{254}{Open: 8520}
\tx[dgreen]{260}{651}{316}{High: 8547}
\tx[red!85!black]{322}{651}{375}{Low: 6697}
\tx[dred]{381}{651}{440}{Close: 6699}
\tx{449}{651}{475}{(Yes)}
\tx{18}{813}{163}{Commodity Channel Index:}
\tx[green]{169}{813}{221}{CCI: 61.72}
\tx[magc]{228}{813}{285}{Line 1: 0.00}
\tx[yelc]{291}{813}{361}{Line 2: 100.00}
\tx[orgc]{367}{813}{443}{Line 3: -100.00}
\tx{452}{813}{611}{(HLC Avg, 10, 0.015, 100, -100)}
\fill[white] (179,963) rectangle (229,978);
\fill[green!70!black] (269,963) rectangle (318,978);
\fill[green!70!black] (321,963) rectangle (378,978);
\tx{18}{971}{155}{ES-201206-GLOBEX\ \ 3 min}
\tx{164}{971}{176}{\#2}
\tx[bg]{181}{971}{228}{C:1370.00}
\tx{234}{971}{266}{T:2201}
\tx[green!40!black]{271}{971}{317}{Chg: 0.25}
\tx[green!40!black]{323}{971}{377}{DChg: 5.75}
\tx{382}{971}{938}{2012-04-24 13:12:00 H:1370.75 L:1369.50 O:1370.00 V:17908 B:1375.50 A:1375.75 34x54 0 BV:0 AV:0 DV:73167}
\tx{945}{971}{1041}{Current Price Line:}
\tx{1050}{971}{1109}{(1000, Last)}
\tx{1115}{971}{1288}{Volume Weighted Average Price:}
\tx[vw]{1295}{971}{1372}{VWAP: 1370.00}
\tx{1382}{971}{1458}{(Last, Yes, Yes)}
\tx{1465}{971}{1534}{VbP - 1 Days:}
\tx{1542}{971}{1592}{(1, Fixed B}
\tx{18}{1601}{188}{Cumulative Delta Bars - Volume:}
\tx[green]{195}{1601}{259}{Open: 95988}
\tx[dgreen]{266}{1601}{327}{High: 95988}
\tx[red!85!black]{335}{1601}{391}{Low: 95988}
\tx[dred]{398}{1601}{462}{Close: 95988}
\tx{472}{1601}{498}{(Yes)}
\tx{18}{1763}{163}{Commodity Channel Index:}
\tx[green]{169}{1763}{226}{CCI: 111.12}
\tx[magc]{234}{1763}{291}{Line 1: 0.00}
\tx[yelc]{297}{1763}{366}{Line 2: 100.00}
\tx[orgc]{373}{1763}{448}{Line 3: -100.00}
\tx{458}{1763}{616}{(HLC Avg, 10, 0.015, 100, -100)}
\fill[white] (1018,904) rectangle (1043,920);
\tx[bg]{1020}{912}{1041}{4-24}
\fill[white] (521,1855) rectangle (546,1871);
\tx[bg]{523}{1863}{544}{4-24}
\fill[green!70!black] (1627,905) rectangle (1648,919);
\tx[white]{1631}{912}{1645}{2 E}
\fill[red] (1625,1855) rectangle (1647,1869);
\tx[white]{1629}{1862}{1644}{3 E}
\fill[white] (1598,380) rectangle (1640,396); \draw[linec,line width=0.4pt] (1598,380) rectangle (1640,396);
\tx[bg]{1600}{388}{1638}{1363.00}
\fill[white] (1596,1059) rectangle (1638,1075);
\tx[bg]{1598}{1067}{1636}{1370.00}
\tikzset{arr/.style={white,line width=2pt,-{Stealth[length=15pt,width=11pt]}}}
\draw[arr] (1323,176) -- (1202,366);
\draw[arr] (1244,593) -- (1388,447);
\draw[arr] (1137,1361) -- (1072,1302);
\draw[arr] (1147,1361) -- (1431,1286);
\fill[white] (1319,36) rectangle (1575,176);
\fill[white] (1239,593) rectangle (1517,766);
\fill[white] (1137,1361) rectangle (1375,1474);
\tikzset{note/.style={anchor=north west,align=left,inner sep=0pt,text=black,font=\ann\fontsize{9}{10.4}\selectfont}}
\node[note] at (1327,47) {Significant overnight support\\in the 1363-1364 area. Broke\\late in session.\\Resistance/Support\\depending where we open\\under/above?};
\node[note] at (1247,611) {Big buying at O/N low very close\\to session open. This area is\\shaping up to be a strong area\\of support. If we open below the\\63-64 level, this will be a great\\area of support. Also, morning\\re-test expected.};
\node[note] at (1147,1370) {The market did test down\\but because of an open\\in/above the 63-64 level,\\that level provided the\\necessary support all day.};
\node[note] at (1681,31) {---------- Hypothesis ----------\\Market open is above VA, so\\expecting test down before attempt\\to confirm PS push up.\\~\\High probability of a re-test of 60-\\62 level. If we can hold that level\\market likely to break the 63-64\\level. Next area of resistance is\\O/N VPOC at 1367.\\~\\------------ DAY INFO -----------\\Day type = Normal Variance Up\\Range = 1361 - 1373\\Key areas = See chart.};
\node[note] at (1681,976) {---------- Hypothesis ----------\\Market open is above VA, so\\expecting test down before attempt\\to confirm PS push up.\\-- This was true, but not to the\\extent I expected.\\~\\High probability of a re-test of 60-\\62 level. If we can hold that level\\market likely to break the 63-64\\level. Next area of resistance is\\O/N VPOC at 1367.\\-- I thought the market would open\\below 63-64 level. That support\\held, so no test of the lower\\support.\\~\\------------ DAY INFO -----------\\Day type = Normal Variance Up\\-- This was true, but it was rather\\just a normal day...no variance of\\any significance.\\~\\Range = 1361 - 1373\\-- I didn't notice the resistance at\\the 70.5 - 71.5 area. Will start with\\macro view in future.\\~\\Key areas = See chart.\\-- Not so useful.};
\end{scope}
\end{tikzpicture}%
\end{document}
